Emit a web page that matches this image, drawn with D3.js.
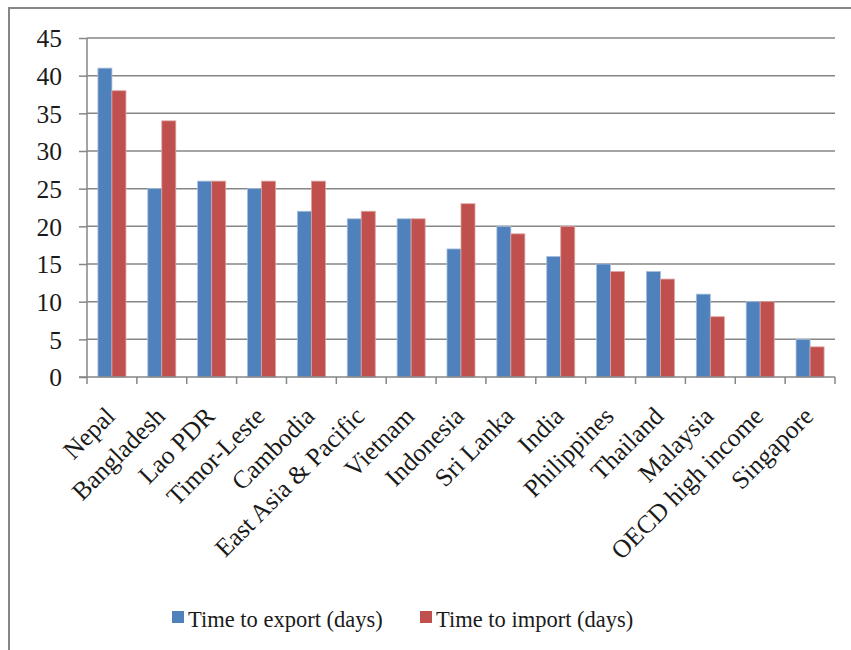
<!DOCTYPE html>
<html>
<head>
<meta charset="utf-8">
<script src="https://cdn.jsdelivr.net/npm/d3@7"></script>
<style>
  body { margin: 0; background: #fff; }
  svg { display: block; }
  svg text { font-family: "Liberation Serif", "Times New Roman", serif; }
</style>
</head>
<body>
<script>
var categories = ['Nepal', 'Bangladesh', 'Lao PDR', 'Timor-Leste', 'Cambodia', 'East Asia & Pacific',
  'Vietnam', 'Indonesia', 'Sri Lanka', 'India', 'Philippines', 'Thailand', 'Malaysia',
  'OECD high income', 'Singapore'];
var exportDays = [41, 25, 26, 25, 22, 21, 21, 17, 20, 16, 15, 14, 11, 10, 5];
var importDays = [38, 34, 26, 26, 26, 22, 21, 23, 19, 20, 14, 13, 8, 10, 4];
var seriesNames = ['Time to export (days)', 'Time to import (days)'];
var yTicks = [0, 5, 10, 15, 20, 25, 30, 35, 40, 45];

var width = 851;
var height = 650;
var colors = ['#4f81bd', '#c0504d'];
var axisColor = '#868686';
var textColor = '#1a1a1a';

var svg = d3.select('body')
  .append('svg')
  .attr('width', width)
  .attr('height', height);

// chart area frame (right and bottom edges fall outside the picture)
svg.append('rect')
  .attr('x', 9)
  .attr('y', 8)
  .attr('width', 900)
  .attr('height', 700)
  .attr('fill', 'none')
  .attr('stroke', axisColor)
  .attr('stroke-width', 2);

var plot = { left: 87, right: 835, top: 38, bottom: 377 };

var xScale = d3.scaleBand()
  .domain(categories)
  .range([plot.left, plot.right]);

var yScale = d3.scaleLinear()
  .domain([0, 45])
  .range([plot.bottom, plot.top]);

var inner = d3.scaleBand()
  .domain([0, 1])
  .range([0, xScale.bandwidth()])
  .paddingInner(0)
  .paddingOuter(0.78);

// gridlines + y axis
var yAxis = d3.axisLeft(yScale)
  .tickValues(yTicks)
  .tickSize(8)
  .tickPadding(17);

var gy = svg.append('g')
  .attr('transform', 'translate(' + plot.left + ',0)')
  .call(yAxis)
  .attr('font-family', null);
gy.select('.domain').remove();
gy.selectAll('.tick line')
  .attr('stroke', axisColor)
  .attr('stroke-width', 1.5);
gy.selectAll('.tick text')
  .attr('x', -25)
  .attr('font-size', 25.5)
  .attr('fill', textColor)
  .attr('dy', '0.34em');

svg.append('g')
  .selectAll('line')
  .data(yTicks.filter(function(d) { return d > 0; }))
  .join('line')
  .attr('x1', plot.left)
  .attr('x2', plot.right)
  .attr('y1', function(d) { return yScale(d); })
  .attr('y2', function(d) { return yScale(d); })
  .attr('stroke', axisColor)
  .attr('stroke-width', 1.5);

// bars
var rows = categories.map(function(c, i) {
  return { cat: c, values: [exportDays[i], importDays[i]] };
});

svg.append('g')
  .selectAll('g')
  .data(rows)
  .join('g')
  .attr('transform', function(d) { return 'translate(' + xScale(d.cat) + ',0)'; })
  .selectAll('rect')
  .data(function(d) { return d.values.map(function(v, k) { return { k: k, v: v }; }); })
  .join('rect')
  .attr('x', function(d) { return inner(d.k); })
  .attr('width', inner.bandwidth())
  .attr('y', function(d) { return yScale(d.v); })
  .attr('height', function(d) { return plot.bottom - yScale(d.v); })
  .attr('fill', function(d) { return colors[d.k]; })
  .attr('stroke', function(d) { return d.k === 0 ? '#a9bfdc' : '#dca3a1'; })
  .attr('stroke-width', 0.8);

// x axis
var xAxis = d3.axisBottom(xScale)
  .tickSize(0)
  .tickFormat('');

var gx = svg.append('g')
  .attr('transform', 'translate(0,' + plot.bottom + ')')
  .call(xAxis);
gx.select('.domain')
  .attr('d', 'M' + (plot.left - 8) + ',0H' + plot.right)
  .attr('stroke', axisColor)
  .attr('stroke-width', 1.5);

var tickXs = categories.map(function(c) { return xScale(c); }).concat([plot.right]);
svg.append('g')
  .selectAll('line')
  .data(tickXs)
  .join('line')
  .attr('x1', function(d) { return d; })
  .attr('x2', function(d) { return d; })
  .attr('y1', function(d, i) { return i === 0 ? plot.top : plot.bottom; })
  .attr('y2', plot.bottom + 7)
  .attr('stroke', axisColor)
  .attr('stroke-width', 1.5);

// category labels
svg.append('g')
  .selectAll('text')
  .data(categories)
  .join('text')
  .attr('transform', function(d) {
    var cx = xScale(d) + xScale.bandwidth() / 2 - 8;
    return 'translate(' + cx + ',' + (plot.bottom + 28) + ') rotate(-45)';
  })
  .attr('text-anchor', 'end')
  .attr('dy', '0.7em')
  .attr('font-size', 25.5)
  .attr('fill', textColor)
  .text(function(d) { return d; });

// legend
var legendX = [172, 420];
var legend = svg.append('g')
  .selectAll('g')
  .data(seriesNames)
  .join('g')
  .attr('transform', function(d, i) { return 'translate(' + legendX[i] + ',611)'; });
legend.append('rect')
  .attr('width', 12)
  .attr('height', 12)
  .attr('fill', function(d, i) { return colors[i]; });
legend.append('text')
  .attr('x', 16)
  .attr('y', 16)
  .attr('font-size', 22.5)
  .attr('fill', textColor)
  .text(function(d) { return d; });
</script>
</body>
</html>
